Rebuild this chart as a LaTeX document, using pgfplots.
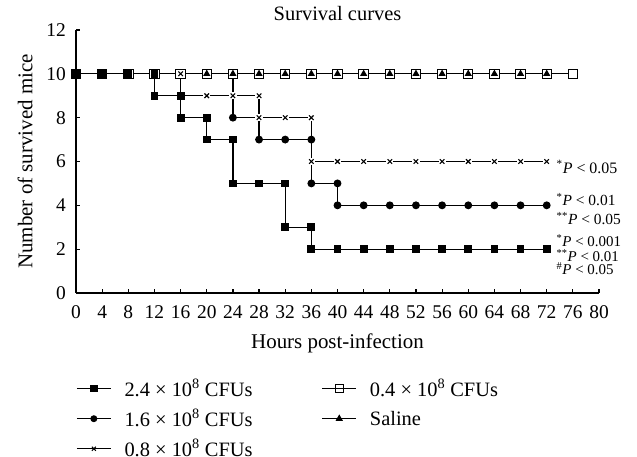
\documentclass[border=0pt]{standalone}
\usepackage{fontspec}
\setmainfont{Liberation Serif}
\usepackage{pgfplots}
\pgfplotsset{compat=1.18}
\begin{document}
\begin{tikzpicture}[x=1bp,y=1bp]
\useasboundingbox (0,0) rectangle (637,457);
\begin{axis}[
  at={(76bp,164bp)}, anchor=south west,
  scale only axis, width=523bp, height=263bp,
  xmin=0, xmax=80, ymin=0, ymax=12,
  axis x line*=bottom, axis y line*=left,
  axis line style={line width=1.8bp, black},
  xtick={0,4,...,80}, ytick={0,2,...,12},
  tick align=inside, major tick length=4bp,
  tick style={line width=1.2bp, black},
  /pgf/number format/assume math mode=true,
  ticklabel style={font=\fontsize{19.5}{22}\selectfont},
  xticklabel style={anchor=center, yshift=-19bp},
  yticklabel style={anchor=east, inner sep=0pt, xshift=-10bp},
  every axis title shift=0pt,
  title={Survival curves},
  title style={at={(axis description cs:0.5,1.061)}, anchor=center, font=\fontsize{20.5}{24}\selectfont},
  xlabel={Hours post-infection},
  xlabel style={at={(axis description cs:0.5,-0.19)}, anchor=center, font=\fontsize{21}{24}\selectfont},
  ylabel={Number of survived mice},
  ylabel style={at={(axis description cs:-0.0975,0.5)}, anchor=center, font=\fontsize{21}{24}\selectfont},
  clip=false,
  legend columns=2,
  legend cell align=left,
  legend style={at={(axis description cs:0,-0.328)}, anchor=north west, draw=none, fill=none,
    font=\fontsize{20.5}{24}\selectfont, inner sep=0pt, nodes={inner sep=0pt}, row sep=11.5bp,
    /tikz/every odd column/.append style={column sep=13bp},
    /tikz/every even column/.append style={column sep=69bp}},
  legend image code/.code={\draw[mark repeat=2,mark phase=2] plot coordinates {(0bp,0bp)(17bp,0bp)(34bp,0bp)};},
]
\addlegendimage{black, line width=1.3bp, mark=square*, mark size=3bp}
\addlegendentry{2.4 × 10\textsuperscript{8} CFUs}
\addlegendimage{black, line width=1.3bp, mark=square, mark size=4bp, mark options={line width=1bp, fill=white}}
\addlegendentry{0.4 × 10\textsuperscript{8} CFUs}
\addlegendimage{black, line width=1.3bp, mark=*, mark size=2.8bp}
\addlegendentry{1.6 × 10\textsuperscript{8} CFUs}
\addlegendimage{black, line width=1.3bp, mark=triangle*, mark size=3bp}
\addlegendentry{Saline}
\addlegendimage{black, line width=1.3bp, mark=x, mark size=2.8bp, mark options={line width=1bp}}
\addlegendentry{0.8 × 10\textsuperscript{8} CFUs}

% 1.6 x 10^8
\addplot[black, line width=1.2bp, mark=*, mark size=3.3bp, forget plot] coordinates {
(0,10)(4,10)(8,10)(12,10)(16,10)(20,10)(24,10)(24,8)(28,8)(28,7)(32,7)(36,7)(36,5)(40,5)(40,4)
(44,4)(48,4)(52,4)(56,4)(60,4)(64,4)(68,4)(72,4)};
% 0.4 x 10^8
\addplot[black, line width=1.2bp, mark=square*, mark size=4.7bp, mark options={line width=1bp, fill=white}, forget plot] coordinates {
(0,10)(4,10)(8,10)(12,10)(16,10)(20,10)(24,10)(28,10)(32,10)(36,10)(40,10)(44,10)(48,10)(52,10)
(56,10)(60,10)(64,10)(68,10)(72,10)(76,10)};
% Saline
\addplot[black, line width=1.2bp, mark=triangle*, mark size=3bp, forget plot] coordinates {
(0,10)(4,10)(8,10)(12,10)(16,10)(20,10)(24,10)(28,10)(32,10)(36,10)(40,10)(44,10)(48,10)(52,10)
(56,10)(60,10)(64,10)(68,10)(72,10)};
% 0.8 x 10^8 (line with white halo marks, then the crosses)
\addplot[black, line width=1.2bp, mark=square*, mark size=3bp, mark options={draw=white, fill=white}, forget plot] coordinates {
(0,10)(4,10)(8,10)(12,10)(16,10)(16,9)(20,9)(24,9)(28,9)(28,8)(32,8)(36,8)(36,6)
(40,6)(44,6)(48,6)(52,6)(56,6)(60,6)(64,6)(68,6)(72,6)};
\addplot[black, only marks, mark=x, mark size=3.2bp, mark options={line width=1.1bp}, forget plot] coordinates {
(0,10)(4,10)(8,10)(12,10)(16,10)(16,9)(20,9)(24,9)(28,9)(28,8)(32,8)(36,8)(36,6)
(40,6)(44,6)(48,6)(52,6)(56,6)(60,6)(64,6)(68,6)(72,6)};
% 2.4 x 10^8
\addplot[black, line width=1.2bp, mark=square*, mark size=3.3bp, forget plot] coordinates {
(0,10)(4,10)(8,10)(12,10)(12,9)(16,9)(16,8)(20,8)(20,7)(24,7)(24,5)(28,5)(32,5)(32,3)(36,3)(36,2)
(40,2)(44,2)(48,2)(52,2)(56,2)(60,2)(64,2)(68,2)(72,2)};

\node[anchor=west, inner sep=0pt, font=\fontsize{16}{18}\selectfont] at (axis cs:73.5,5.76) {\textsuperscript{*}\textit{P} < 0.05};
\node[anchor=west, inner sep=0pt, font=\fontsize{15.5}{18}\selectfont] at (axis cs:73.5,4.26) {\textsuperscript{*}\textit{P} < 0.01};
\node[anchor=west, inner sep=0pt, font=\fontsize{15.5}{18}\selectfont] at (axis cs:73.5,3.4) {\textsuperscript{**}\textit{P} < 0.05};
\node[anchor=west, inner sep=0pt, font=\fontsize{15}{18}\selectfont] at (axis cs:73.5,2.4) {\textsuperscript{*}\textit{P} < 0.001};
\node[anchor=west, inner sep=0pt, font=\fontsize{15}{18}\selectfont] at (axis cs:73.5,1.7) {\textsuperscript{**}\textit{P} < 0.01};
\node[anchor=west, inner sep=0pt, font=\fontsize{15}{18}\selectfont] at (axis cs:73.5,1.1) {\textsuperscript{\#}\textit{P} < 0.05};
\end{axis}
\end{tikzpicture}
\end{document}
